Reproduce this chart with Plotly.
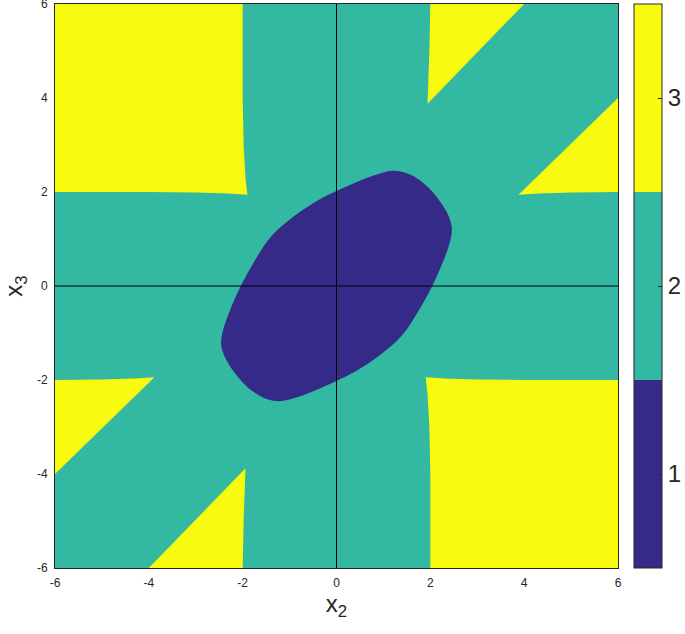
import plotly.graph_objects as go

# region colours (parula, 3 levels)
level_vals = [1, 2, 3]
level_cols = ["#352a87", "#33b8a1", "#f9fb0e"]

# axis limits / ticks
ax_lim = [-6, 6]
tick_vals = [-6, -4, -2, 0, 2, 4, 6]
tick_text = ["-6", "-4", "-2", "0", "2", "4", "6"]

# level 1 region (central blob)
blob_x = [1.22, 1.57, 1.93, 2.28, 2.42, 2.46, 2.41, 2.28, 2.04, 1.73, 1.39, 0.90, 0.40, 0.0,
          -0.52, -0.88, -1.22, -1.57, -1.93, -2.28, -2.42, -2.46, -2.41, -2.28, -2.04, -1.73,
          -1.39, -0.90, -0.40, 0.0, 0.52, 0.88, 1.22]
blob_y = [2.45, 2.37, 2.12, 1.69, 1.41, 1.20, 0.91, 0.54, 0.0, -0.56, -1.06, -1.49, -1.82, -2.02,
          -2.25, -2.38, -2.45, -2.37, -2.12, -1.69, -1.41, -1.20, -0.91, -0.54, 0.0, 0.56,
          1.06, 1.49, 1.82, 2.02, 2.25, 2.38, 2.45]

# level 3 regions
tl_x = [-6, -2.0, -2.0, -1.98, -1.94, -1.90, -2.3, -3.0, -4.0, -6]
tl_y = [6, 6, 4.0, 3.0, 2.3, 1.94, 1.97, 1.99, 2.0, 2.0]
br_x = [6, 2.0, 2.0, 1.98, 1.94, 1.90, 2.3, 3.0, 4.0, 6]
br_y = [-6, -6, -4.0, -3.0, -2.3, -1.94, -1.97, -1.99, -2.0, -2.0]
tr_top_x = [2.0, 4.0, 1.94, 1.96, 1.98, 2.0]
tr_top_y = [6, 6, 3.88, 4.3, 5.0, 6]
tr_side_x = [6, 3.88, 4.3, 5.0, 6]
tr_side_y = [4.0, 1.94, 1.97, 1.99, 2.0]
bl_side_x = [-6, -3.88, -4.3, -5.0, -6]
bl_side_y = [-4.0, -1.94, -1.97, -1.99, -2.0]
bl_bot_x = [-2.0, -4.0, -1.94, -1.96, -1.98, -2.0]
bl_bot_y = [-6, -6, -3.88, -4.3, -5.0, -6]

txt = "#262626"
font = "Liberation Sans, Arial, sans-serif"

fig = go.Figure()

# level 2 covers the whole square
fig.add_trace(go.Scatter(x=[ax_lim[0], ax_lim[1], ax_lim[1], ax_lim[0], ax_lim[0]],
                         y=[ax_lim[0], ax_lim[0], ax_lim[1], ax_lim[1], ax_lim[0]],
                         mode="lines", fill="toself", fillcolor=level_cols[1],
                         line=dict(width=0), hoverinfo="skip", showlegend=False))

for xs, ys in [(tl_x, tl_y), (br_x, br_y), (tr_top_x, tr_top_y), (tr_side_x, tr_side_y),
               (bl_side_x, bl_side_y), (bl_bot_x, bl_bot_y)]:
    fig.add_trace(go.Scatter(x=xs, y=ys, mode="lines", fill="toself",
                             fillcolor=level_cols[2], line=dict(width=0),
                             hoverinfo="skip", showlegend=False))

fig.add_trace(go.Scatter(x=blob_x, y=blob_y, mode="lines", fill="toself",
                         fillcolor=level_cols[0], line=dict(width=0, shape="spline"),
                         hoverinfo="skip", showlegend=False))

# dummy trace carrying the colorbar
cscale = [[0, level_cols[0]], [1/3, level_cols[0]], [1/3, level_cols[1]],
          [2/3, level_cols[1]], [2/3, level_cols[2]], [1, level_cols[2]]]
fig.add_trace(go.Scatter(
    x=[0, 0, 0], y=[0, 0, 0], mode="markers", hoverinfo="skip", showlegend=False,
    marker=dict(size=0.1, opacity=0, color=level_vals, colorscale=cscale, cmin=0.5, cmax=3.5,
                showscale=True,
                colorbar=dict(x=(634 - 55) / 563, xanchor="left", xpad=0, ypad=0,
                              y=0.5, yanchor="middle", len=1, lenmode="fraction",
                              thickness=28, outlinewidth=1, outlinecolor=txt,
                              ticks="inside", ticklen=4, tickcolor=txt,
                              tickvals=level_vals,
                              tickfont=dict(size=24, color=txt, family=font)))))

# crosshair through the origin
fig.add_vline(x=0, line_color="black", line_width=1)
fig.add_hline(y=0, line_color="black", line_width=1)

fig.update_layout(
    width=685, height=634,
    margin=dict(l=55, r=67, t=4, b=66, autoexpand=False),
    paper_bgcolor="white", plot_bgcolor="white",
    font=dict(family=font, color=txt),
)
fig.update_xaxes(range=ax_lim, tickvals=tick_vals, ticktext=tick_text,
                 showgrid=False, zeroline=False,
                 showline=True, linecolor=txt, linewidth=1, mirror=True, ticks="",
                 ticklabelstandoff=4, ticklabeloverflow="allow",
                 tickfont=dict(size=12, color=txt),
                 title=dict(text="x<sub>2</sub>", font=dict(size=24, color=txt), standoff=5))
fig.update_yaxes(range=ax_lim, tickvals=tick_vals, ticktext=tick_text,
                 showgrid=False, zeroline=False,
                 showline=True, linecolor=txt, linewidth=1, mirror=True, ticks="",
                 ticklabelstandoff=4, ticklabeloverflow="allow",
                 tickfont=dict(size=12, color=txt),
                 title=dict(text="x<sub>3</sub>", font=dict(size=24, color=txt), standoff=13))

# page body has a default 8px margin; drop it so the figure sits at the corner
fig.write_html("out.html", config={"displayModeBar": False},
               post_script="document.body.style.margin='0';document.body.style.overflow='hidden';")
